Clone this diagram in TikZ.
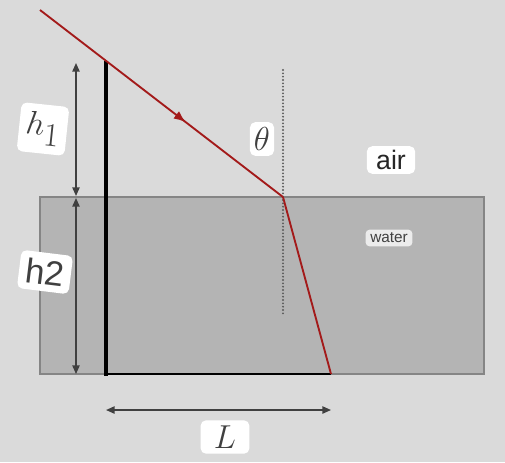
\documentclass[tikz,border=0pt]{standalone}
\usepackage{fontspec}
\newfontfamily\labelfont{Liberation Sans}
\usetikzlibrary{arrows.meta,decorations.markings}
\definecolor{bggray}{HTML}{DADADA}
\definecolor{watergray}{HTML}{B4B4B4}
\definecolor{edgegray}{HTML}{858585}
\definecolor{raycolor}{HTML}{A31A1A}
\begin{document}
\begin{tikzpicture}[x=0.75pt,y=-0.75pt,
			tag/.style={fill=white, rounded corners=4pt, inner sep=3pt, text=black!75},
			dimline/.style={line width=1.1pt, draw=black!75, {Triangle[length=6.5pt,width=5.5pt]}-{Triangle[length=6.5pt,width=5.5pt]}},
			pole/.style={line width=3pt, line cap=rect},
			ray/.style={line width=1.4pt, draw=raycolor},
			]
			\fill[bggray] (0,0) rectangle (505,462);
			\useasboundingbox (0,0) rectangle (505,462);
			% water tank
			\draw[fill=watergray, draw=edgegray, line width=1.1pt] (40,197) rectangle (484,374);
			% points
			\coordinate (src) at (40,10);
			\coordinate (top) at (106,63);
			\coordinate (base) at (106,374);
			\coordinate (hit) at (283,197);
			\coordinate (foot) at (331,374);
			\coordinate (normtop) at (283,70);
			\coordinate (normbot) at (283,316);
			\coordinate (h1top) at (76,63);
			\coordinate (h1bot) at (76,196);
			\coordinate (h2top) at (76,198);
			\coordinate (h2bot) at (76,374);
			\coordinate (lleft) at (106,410);
			\coordinate (lright) at (331,410);
			% pole and floor
			\draw[line width=1.5pt] (base) -- (foot);
			\draw[pole] (top) -- (base);
			% normal
			\draw[line width=1.6pt, draw=black!65, line cap=round, dash pattern=on 0pt off 2.5pt] (normtop) -- (normbot);
			% light ray
			\draw[ray, postaction={decorate}, decoration={markings, mark=at position 0.6 with {\arrow{Latex[length=9pt,width=7pt]}}}] (src) -- (hit);
			\draw[ray] (hit) -- (foot);
			% dimensions
			\draw[dimline] (h1top) -- (h1bot);
			\draw[dimline] (h2top) -- (h2bot);
			\draw[dimline] (lleft) -- (lright);
			% labels
			\node[tag, rotate=-6, inner xsep=5pt, inner ysep=6pt] at (43,129) (hone) {\fontsize{36}{40}\selectfont$h_1$};
			\node[tag, rotate=-7, inner xsep=5pt, inner ysep=5pt] at (45,272) (htwo) {\labelfont\fontsize{26}{28}\selectfont h2};
			\node[tag, inner xsep=3pt, inner ysep=4pt] at (262,139) (theta) {\fontsize{34}{38}\selectfont$\theta$};
			\node[tag, inner xsep=7pt, inner ysep=3pt, text=black!85] at (391,160) (air) {\labelfont\fontsize{20}{22}\selectfont air};
			\node[tag, fill=gray!15, rounded corners=3pt, inner xsep=3.5pt, inner ysep=2.5pt] at (389,238) (water) {\labelfont\fontsize{11.5}{13}\selectfont water};
			\node[tag, inner xsep=10pt, inner ysep=4pt] at (225,437) (len) {\fontsize{34}{38}\selectfont$L$};
		\end{tikzpicture}
\end{document}
